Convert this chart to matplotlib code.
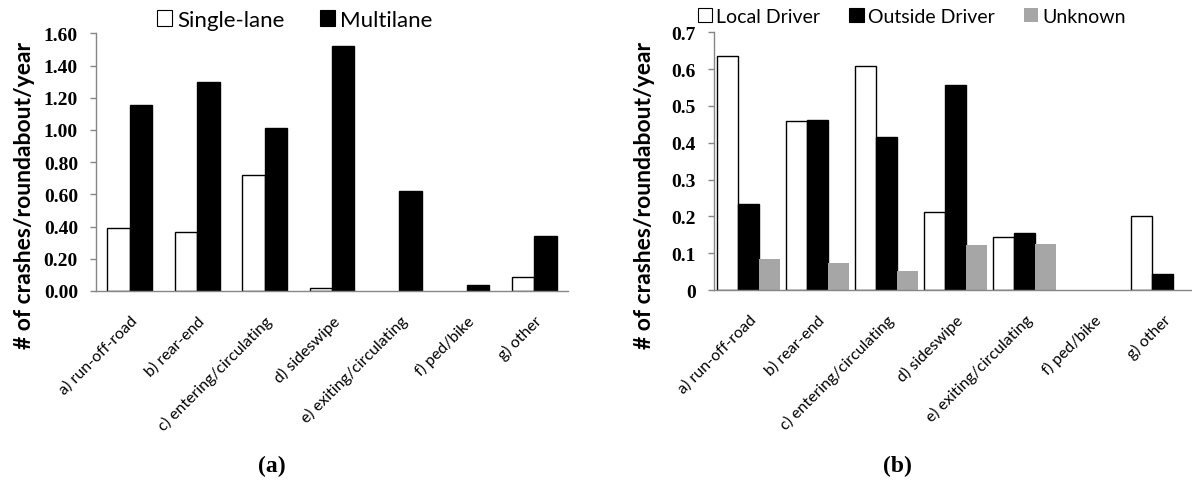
import matplotlib
matplotlib.use('Agg')
import matplotlib.pyplot as plt
from matplotlib.patches import Patch
from matplotlib.ticker import FuncFormatter
import numpy as np

categories = ['a) run-off-road', 'b) rear-end', 'c) entering/circulating', 'd) sideswipe',
              'e) exiting/circulating', 'f) ped/bike', 'g) other']

# panel (a)
single_lane = [0.39, 0.365, 0.72, 0.02, 0.0, 0.0, 0.09]
multilane = [1.155, 1.295, 1.01, 1.52, 0.62, 0.035, 0.34]

# panel (b)
local_driver = [0.635, 0.46, 0.608, 0.212, 0.143, 0.0, 0.2]
outside_driver = [0.233, 0.462, 0.415, 0.558, 0.156, 0.0, 0.043]
unknown = [0.084, 0.073, 0.052, 0.123, 0.126, 0.0, 0.0]

SANS = 'Lato'
SERIF = 'Liberation Serif'
GRAY = '#a6a6a6'
AXIS = '#868686'
W, H = 1192, 489

fig = plt.figure(figsize=(11.92, 4.89), dpi=100)
ax1 = fig.add_axes([96 / W, 1 - 292 / H, 472 / W, 257.7 / H])
ax2 = fig.add_axes([714 / W, 1 - 291 / H, 483 / W, 257.7 / H])

x = np.arange(len(categories))


def outlined_bars(ax, xs, vals, width, face):
    # empty (zero) bars get no outline, like the original chart
    lws = [1.0 if v > 0 else 0 for v in vals]
    return ax.bar(xs, vals, width, color=face, edgecolor='black', linewidth=lws)


def style_axes(ax):
    for s in ['top', 'right']:
        ax.spines[s].set_visible(False)
    for s in ['left', 'bottom']:
        ax.spines[s].set_color(AXIS)
        ax.spines[s].set_linewidth(1.0)
    ax.set_xlim(-0.5, len(categories) - 0.5)
    ax.set_xticks(x)
    ax.set_xticklabels(categories, rotation=45, ha='right', rotation_mode='anchor',
                       family=SANS, fontsize=11.5)
    ax.tick_params(axis='x', length=0, pad=16)
    ax.tick_params(axis='y', length=4, width=1, color=AXIS, pad=9)
    for lab in ax.get_yticklabels():
        lab.set_family(SERIF)
        lab.set_fontweight('bold')
        lab.set_fontsize(14)


# ---- (a)
w = 1 / 3
outlined_bars(ax1, x - w / 2, single_lane, w, 'white')
outlined_bars(ax1, x + w / 2, multilane, w, 'black')
ax1.set_ylim(0, 1.6)
ax1.set_yticks(np.arange(0, 1.61, 0.2))
ax1.yaxis.set_major_formatter(FuncFormatter(lambda v, p: '%.2f' % v))
style_axes(ax1)
h1 = [Patch(facecolor='white', edgecolor='black', linewidth=0.8),
      Patch(facecolor='black', edgecolor='black', linewidth=0.8)]
ax1.legend(h1, ['Single-lane', 'Multilane'], loc='lower left', bbox_to_anchor=(0.11, 0.98),
           ncol=2, frameon=False, prop={'family': SANS, 'size': 16}, handlelength=0.7,
           handleheight=0.7, handletextpad=0.2, columnspacing=1.6, borderaxespad=0)

# ---- (b)
w2 = 0.3
outlined_bars(ax2, x - w2, local_driver, w2, 'white')
outlined_bars(ax2, x, outside_driver, w2, 'black')
ax2.bar(x + w2, unknown, w2, color=GRAY, linewidth=0)
ax2.set_ylim(0, 0.7)
ax2.set_yticks(np.arange(0, 0.71, 0.1))
ax2.yaxis.set_major_formatter(FuncFormatter(lambda v, p: '%g' % round(v, 1)))
style_axes(ax2)
h2 = [Patch(facecolor='white', edgecolor='black', linewidth=0.8),
      Patch(facecolor='black', edgecolor='black', linewidth=0.8),
      Patch(facecolor=GRAY, edgecolor=GRAY, linewidth=0)]
ax2.legend(h2, ['Local Driver', 'Outside Driver', 'Unknown'], loc='lower left',
           bbox_to_anchor=(-0.05, 1.0), ncol=3, frameon=False,
           prop={'family': SANS, 'size': 14}, handlelength=0.75, handleheight=0.75,
           handletextpad=0.2, columnspacing=1.5, borderaxespad=0)

# y labels sit a bit below the plot centre, as in the original
ylab = '# of crashes/roundabout/year'
fig.text(25 / W, 1 - 195 / H, ylab, family=SANS, fontweight='bold', fontsize=16.5,
         rotation=90, ha='center', va='center')
fig.text(644 / W, 1 - 195 / H, ylab, family=SANS, fontweight='bold', fontsize=16.5,
         rotation=90, ha='center', va='center')

# panel captions
fig.text(272 / W, 1 - 466 / H, '(a)', family=SERIF, fontweight='bold', fontsize=17,
         ha='center', va='center')
fig.text(897 / W, 1 - 466 / H, '(b)', family=SERIF, fontweight='bold', fontsize=17,
         ha='center', va='center')

fig.savefig('out.png', dpi=100)
